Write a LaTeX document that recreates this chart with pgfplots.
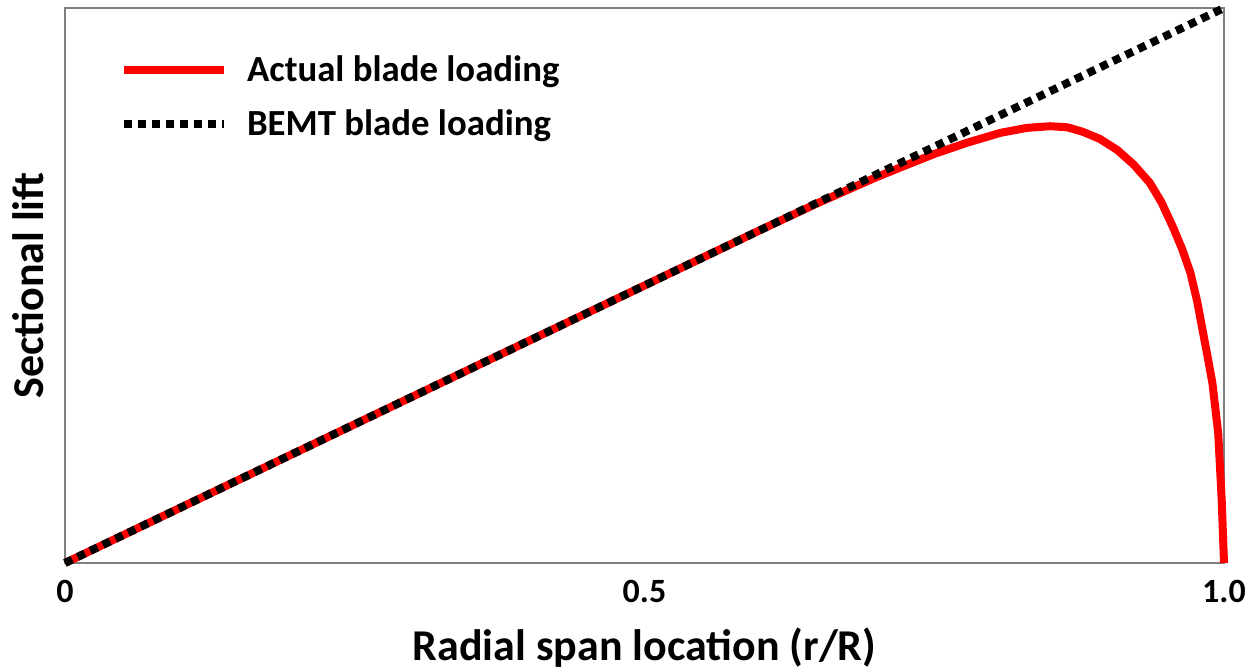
\documentclass[border=0pt]{standalone}
\usepackage{pgfplots}
\pgfplotsset{compat=1.18}
\usepackage{fontspec}
\setmainfont{Carlito}

\definecolor{axisgray}{RGB}{128,128,128}

\begin{document}
\begin{tikzpicture}
\useasboundingbox (-32.5pt,-54.5pt) rectangle (593.5pt,281.5pt);
\begin{axis}[
    scale only axis,
    width=579.5pt,
    height=277.5pt,
    xmin=0, xmax=1,
    ymin=0, ymax=1,
    xtick={0,0.5,1},
    xticklabels={0,0.5,1.0},
    ytick=\empty,
    major tick length=0pt,
    axis line style={axisgray, line width=1pt},
    tick label style={font=\fontsize{17}{19}\selectfont\bfseries},
    /pgf/number format/assume math mode=true,
    xticklabel style={yshift=-5pt},
    xlabel={Radial span location (r/R)},
    ylabel={Sectional lift},
    label style={font=\fontsize{22}{25}\selectfont\bfseries},
    xlabel style={yshift=-6pt},
    ylabel style={yshift=7pt},
    clip=false,
    legend style={draw=none, fill=none, at={(0.042,0.93)}, anchor=north west,
        font=\fontsize{18.4}{21}\selectfont\bfseries, row sep=9pt},
    legend cell align=left,
    legend image code/.code={\draw[#1] (0pt,0pt) -- (50pt,0pt);},
]
\addplot[red, line width=4pt, line join=round] coordinates {
(0,0) (0.6,0.6) (0.65,0.649) (0.7,0.695) (0.72,0.712) (0.75,0.737)
(0.778,0.757) (0.807,0.775) (0.83,0.784) (0.85,0.787) (0.865,0.785)
(0.878,0.777) (0.893,0.764) (0.908,0.744) (0.922,0.718) (0.936,0.685)
(0.946,0.65) (0.956,0.605) (0.964,0.565) (0.971,0.523) (0.977,0.47)
(0.982,0.414) (0.986,0.37) (0.990,0.324) (0.995,0.234) (0.998,0.114) (1.0,0)
};
\addlegendentry{\hspace{7.5pt}Actual blade loading}
\addplot[black, line width=4pt, dash pattern=on 4pt off 3pt] coordinates {
(0,0) (1,1)
};
\addlegendentry{\hspace{7.5pt}BEMT blade loading}
\end{axis}
\end{tikzpicture}
\end{document}
